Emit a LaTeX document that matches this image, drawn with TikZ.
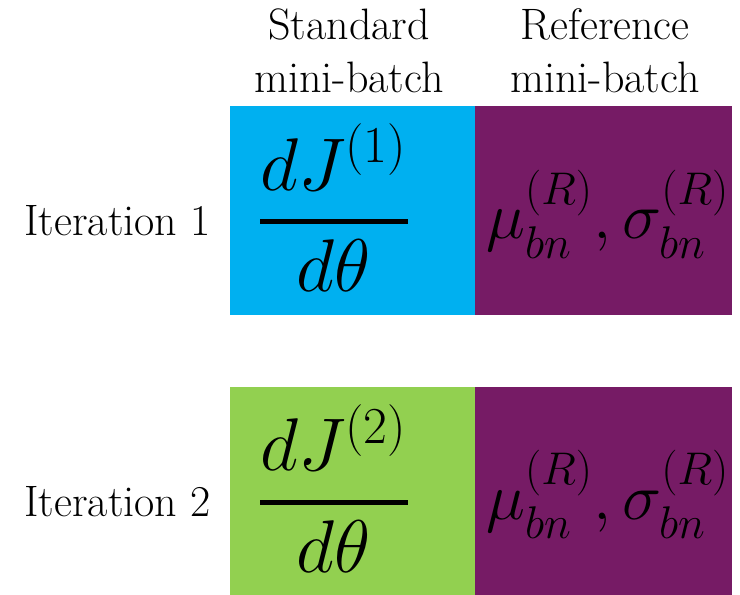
\documentclass[tikz,border=0pt]{standalone}
\usepackage{amsmath}
\usepackage{graphicx}
\usepackage{tikz}
\usetikzlibrary{positioning,calc}
\definecolor{gradblue}  {HTML}{00B0F0}
\definecolor{gradgreen} {HTML}{92D050}
\definecolor{refpurple} {HTML}{761B65}
\newcommand{\scaledmath}[2]{\scalebox{#1}{\fontsize{24}{28}\selectfont$#2$}}
\tikzset{
  % --- cells
  cell/.style  = {inner sep=0pt, outer sep=0pt, minimum height=209pt},
  grad/.style  = {cell, minimum width=245pt},
  refc/.style  = {cell, minimum width=257pt, fill=refpurple},
  % --- text
  lbl/.style   = {font=\fontsize{44}{53}\selectfont, align=center, inner sep=0pt},
  mth/.style   = {inner sep=0pt, anchor=base},
}
\begin{document}
\begin{tikzpicture}[x=1pt,y=-1pt]
  \useasboundingbox (0,0) rectangle (740,595);

  % column heads
  \node[lbl] (hstd) at (349,51) {Standard\\mini-batch};
  \node[lbl] (href) at (605,51) {Reference\\mini-batch};

  % one row per iteration: label, gradient cell, reference statistics cell
  \foreach \i/\y/\c in {1/210.5/gradblue, 2/491/gradgreen}
  {
    \node[grad, fill=\c] (grad\i) at (352.5,\y) {};
    \node[refc, anchor=west] (ref\i) at (grad\i.east) {};
    \node[lbl, anchor=base east] (iter\i) at (211,{\y+25}) {Iteration \i};
    \node[mth] (frac\i) at (334,{\y+30})
      {\scaledmath{3}{\genfrac{}{}{1.7pt}{0}{dJ^{(\i)}}{d\theta}}};
    \node[mth] (stat\i) at (608,{\y+28})
      {\scaledmath{2.65}{\mu_{bn}^{(R)},\sigma_{bn}^{(R)}}};
  }
\end{tikzpicture}
\end{document}
